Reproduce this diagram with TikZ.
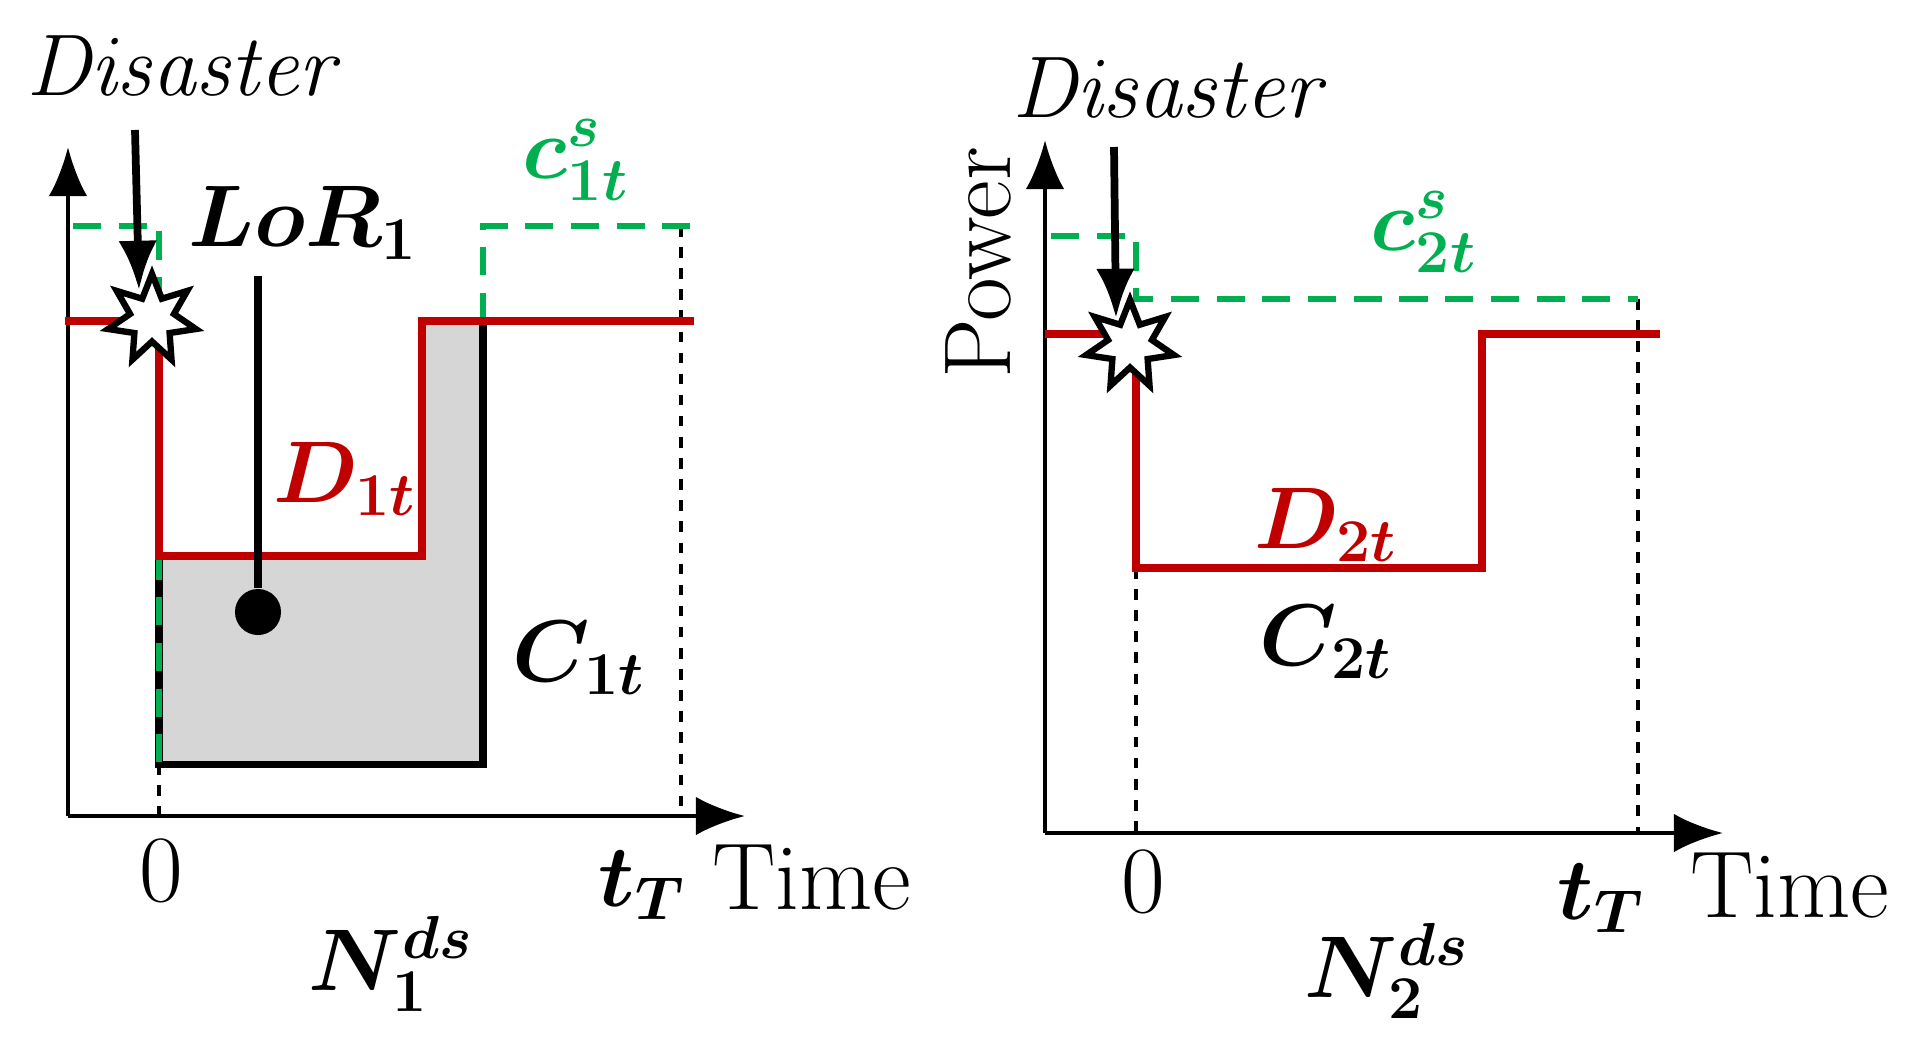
\documentclass[tikz,border=0pt]{standalone}
\usepackage{amsmath,bm}
\usetikzlibrary{shapes.geometric,arrows.meta}
\definecolor{dred}{RGB}{192,0,0}
\definecolor{dgreen}{RGB}{0,176,80}
\tikzset{
  lbl/.style={font=\fontsize{27}{32}\selectfont, inner sep=0pt},
  ax/.style={line width=1.3pt, -{Latex[length=14pt,width=11pt]}},
  dem/.style={dred, line width=2.2pt},
  sup/.style={dgreen, dashed, line width=1.8pt, dash pattern=on 8pt off 5pt},
  tick/.style={dashed, line width=1pt},
  boom/.style={star, star points=7, star point ratio=2, draw, fill=white, line width=1.8pt, minimum size=0.9cm, inner sep=0pt}
}
\begin{document}
\begin{tikzpicture}[x=0.01cm, y=-0.01cm]
    \useasboundingbox (0,0) rectangle (1907,1045);

    % left panel
    \coordinate (o1) at (68,816);
    \draw[ax] (o1) -- (68,147);
    \draw[ax] (o1) -- (745,816);
    \fill[black!16] (159,556) -- (422,556) -- (422,321) -- (483,321) -- (483,764) -- (159,764) -- cycle;
    \draw[line width=2pt] (159,556) -- (159,764) -- (483,764) -- (483,321);
    \draw[tick] (159,764) -- (159,816);
    \draw[tick] (681,226) -- (681,816);
    \draw[sup] (73,226) -- (159,226) -- (159,764);
    \draw[sup] (483,321) -- (483,226) -- (697,226);
    \draw[dem] (65,321) -- (159,321) -- (159,556) -- (422,556) -- (422,321) -- (694,321);
    \node[boom] (star1) at (152,319) {};
    \node[lbl] (dis1) at (185,66) {$\mathit{Disaster}$};
    \coordinate (a1) at (135,130);
    \draw[line width=2.2pt, -{Latex[length=14pt,width=11pt]}] (a1) -- (139,290);
    \node[lbl] (lor) at (303,223) {$\bm{LoR_1}$};
    \node[circle, fill, minimum size=0.46cm, inner sep=0pt] (dot) at (258,612) {};
    \coordinate (lortop) at (258,276);
    \draw[line width=2pt] (lortop) -- (dot);
    \node[lbl, dred] (d1) at (345,479) {$\bm{D_{1t}}$};
    \node[lbl] (c1) at (579,658) {$\bm{C_{1t}}$};
    \node[lbl, dgreen] (cs1) at (576,160) {$\bm{c^{s}_{1t}}$};
    \node[lbl] (zero1) at (161,871) {0};
    \node[lbl] (tt1) at (642,885) {$\bm{t_T}$};
    \node[lbl] (time1) at (812,878) {Time};
    \node[lbl] (n1) at (391,964) {$\bm{N^{ds}_{1}}$};

    % right panel
    \coordinate (o2) at (1045,833);
    \draw[ax] (o2) -- (1045,140);
    \draw[ax] (o2) -- (1723,833);
    \draw[tick] (1136,568) -- (1136,833);
    \draw[tick] (1638,299) -- (1638,833);
    \draw[sup] (1051,236) -- (1136,236) -- (1136,299) -- (1638,299);
    \draw[dem] (1045,334) -- (1136,334) -- (1136,568) -- (1482,568) -- (1482,334) -- (1660,334);
    \node[boom] (star2) at (1130,345) {};
    \node[lbl] (dis2) at (1171,88) {$\mathit{Disaster}$};
    \coordinate (a2) at (1114,147);
    \draw[line width=2.2pt, -{Latex[length=14pt,width=11pt]}] (a2) -- (1116,318);
    \node[lbl, rotate=90] (pow) at (978,263) {Power};
    \node[lbl, dgreen] (cs2) at (1424,232) {$\bm{c^{s}_{2t}}$};
    \node[lbl, dred] (d2) at (1326,525) {$\bm{D_{2t}}$};
    \node[lbl] (c2) at (1326,642) {$\bm{C_{2t}}$};
    \node[lbl] (zero2) at (1143,882) {0};
    \node[lbl] (tt2) at (1601,898) {$\bm{t_T}$};
    \node[lbl] (time2) at (1790,886) {Time};
    \node[lbl] (n2) at (1387,971) {$\bm{N^{ds}_{2}}$};
\end{tikzpicture}
\end{document}
